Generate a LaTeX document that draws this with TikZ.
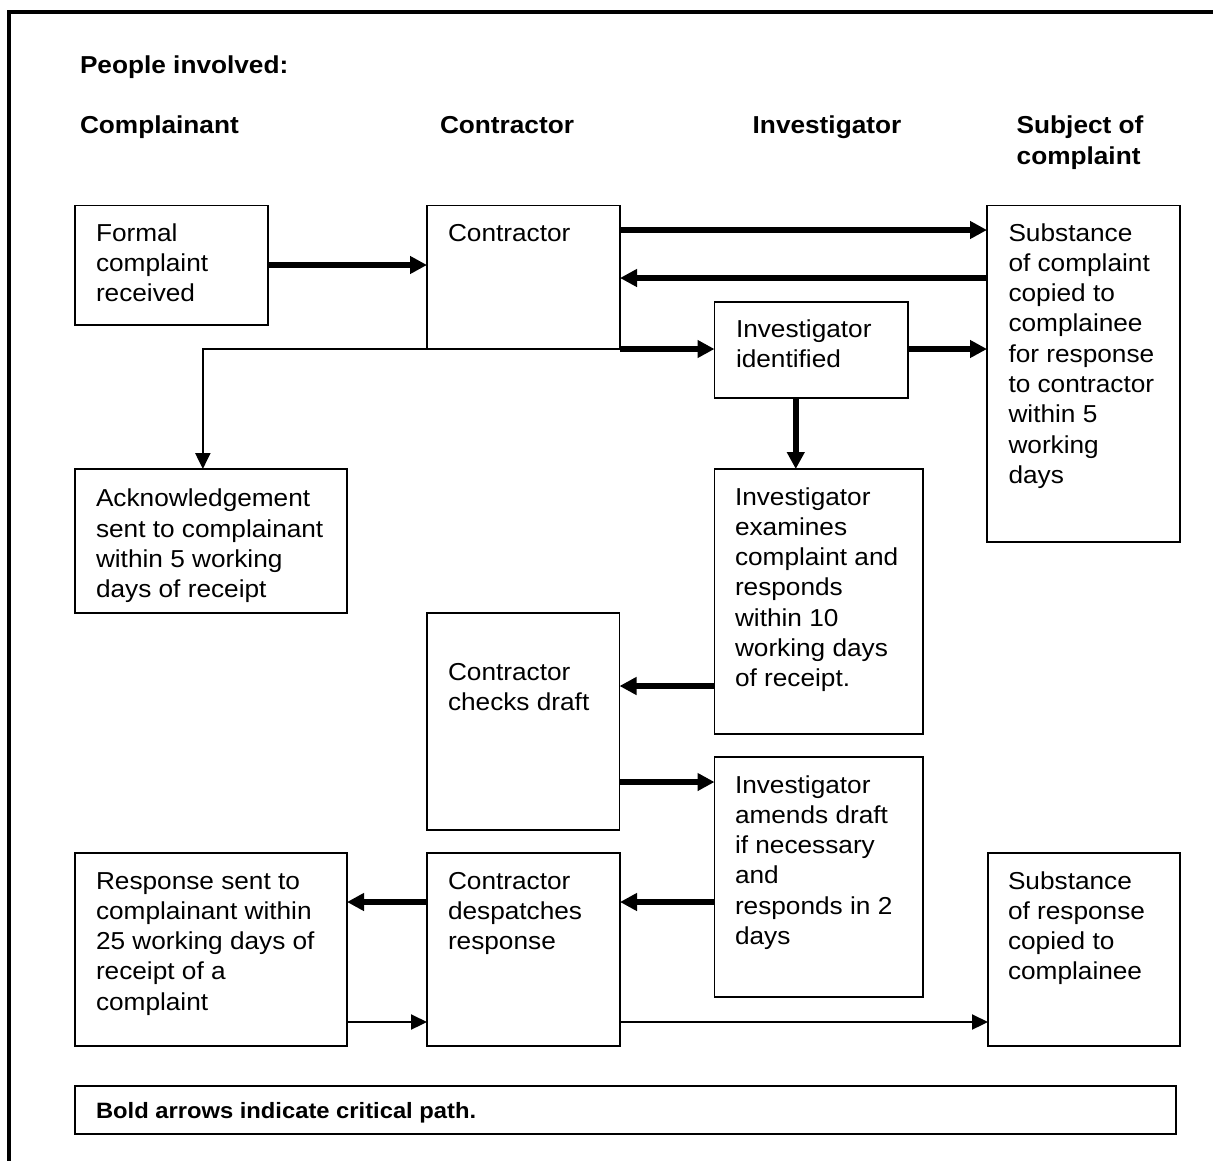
\documentclass[tikz,border=0pt]{standalone}
\usepackage{fontspec}
\setmainfont{Liberation Sans}[FakeStretch=1.07]
\usetikzlibrary{arrows.meta,calc}
\begin{document}
\begin{tikzpicture}[x=1pt,y=-1pt,
  box/.style={draw, line width=1.8pt, rectangle, inner sep=0pt, outer sep=0pt, anchor=north west},
  txt/.style={anchor=north west, inner sep=0pt, outer sep=0pt, align=left, font=\fontsize{24.5}{30.3}\selectfont},
  head/.style={anchor=north west, inner sep=0pt, outer sep=0pt, align=left, font=\fontsize{24.5}{31}\selectfont\bfseries},
  note/.style={anchor=north west, inner sep=0pt, outer sep=0pt, align=left, font=\fontsize{22.2}{26}\selectfont\bfseries},
  critarrow/.style={-{Triangle[length=17pt,width=17pt]}, line width=6pt},
  thinarrow/.style={-{Triangle[length=16pt,width=15pt]}, line width=2.2pt}]
\useasboundingbox (0,0) rectangle (1213,1160);
\clip (0,0) rectangle (1213,1160);
% outer frame
\draw[line width=3.5pt] (9,1260) -- (9,12) -- (1260,12);

% headings
\node[head] (h-people) at (80,53) {\rule{0pt}{20pt}People involved:};
\node[head] (h-compl) at (80,113) {\rule{0pt}{20pt}Complainant};
\node[head] (h-contr) at (440,113) {\rule{0pt}{20pt}Contractor};
\node[head] (h-inv) at (752.7,113) {\rule{0pt}{20pt}Investigator};
\node[head] (h-subj) at (1016.7,113) {\rule{0pt}{20pt}Subject of\\complaint};

% boxes
\node[box, minimum width=193pt, minimum height=119.5pt] (formal) at (75,205.5) {};
\node[box, minimum width=193pt, minimum height=143.5pt] (contr) at (427,205.5) {};
\node[box, minimum width=193pt, minimum height=336.5pt] (subj) at (987,205.5) {};
\node[box, minimum width=193.5pt, minimum height=96pt] (invid) at (714.5,302) {};
\node[box, minimum width=272pt, minimum height=144pt] (ack) at (75,469) {};
\node[box, minimum width=208.5pt, minimum height=265pt] (exam) at (714.5,469) {};
\node[box, minimum width=192.5pt, minimum height=217pt] (checks) at (427,613) {};
\node[box, minimum width=208.5pt, minimum height=240pt] (amends) at (714.5,757) {};
\node[box, minimum width=272pt, minimum height=193pt] (resp) at (75,853) {};
\node[box, minimum width=193pt, minimum height=193pt] (desp) at (427,853) {};
\node[box, minimum width=192pt, minimum height=193pt] (subresp) at (988,853) {};
\node[box, minimum width=1101pt, minimum height=48pt] (critbox) at (75,1086) {};

% texts
\node[txt] (formal-t) at (96,221) {\rule{0pt}{20pt}Formal\\complaint\\received};
\node[txt] (contr-t) at (448,221) {\rule{0pt}{20pt}Contractor};
\node[txt] (subj-t) at (1008.5,221) {\rule{0pt}{20pt}Substance\\of complaint\\copied to\\complainee\\for response\\to contractor\\within 5\\working\\days};
\node[txt] (invid-t) at (736,317) {\rule{0pt}{20pt}Investigator\\identified};
\node[txt] (ack-t) at (96,486.7) {\rule{0pt}{20pt}Acknowledgement\\sent to complainant\\within 5 working\\days of receipt};
\node[txt] (exam-t) at (735,485) {\rule{0pt}{20pt}Investigator\\examines\\complaint and\\responds\\within 10\\working days\\of receipt.};
\node[txt] (checks-t) at (448,660) {\rule{0pt}{20pt}Contractor\\checks draft};
\node[txt] (amends-t) at (735,773) {\rule{0pt}{20pt}Investigator\\amends draft\\if necessary\\and\\responds in 2\\days};
\node[txt] (resp-t) at (96,869) {\rule{0pt}{20pt}Response sent to\\complainant within\\25 working days of\\receipt of a\\complaint};
\node[txt] (desp-t) at (448,869) {\rule{0pt}{20pt}Contractor\\despatches\\response};
\node[txt] (subresp-t) at (1008,869) {\rule{0pt}{20pt}Substance\\of response\\copied to\\complainee};
\node[note] (crit-t) at (96,1100) {\rule{0pt}{18pt}Bold arrows indicate critical path.};

% helper rows
\coordinate (ya) at (0,230);
\coordinate (yb) at (0,278);
\coordinate (yd) at (0,686);
\coordinate (ye) at (0,782);
\coordinate (yf) at (0,902);
\coordinate (yg) at (0,1022);
\coordinate (yh) at (0,265);

% critical path arrows
\draw[critarrow] (formal.east |- yh) -- (contr.west |- yh);
\draw[critarrow] (contr.east |- ya) -- (subj.west |- ya);
\draw[critarrow] (subj.west |- yb) -- (contr.east |- yb);
\draw[critarrow] (contr.south east) -- (invid.west |- contr.south east);
\draw[critarrow] (invid.east |- contr.south east) -- (subj.west |- contr.south east);
\coordinate (p5) at ($(invid.south west)!0.42!(invid.south east)$);
\draw[critarrow] (p5) -- (p5 |- exam.north);
\draw[critarrow] (exam.west |- yd) -- (checks.east |- yd);
\draw[critarrow] (checks.east |- ye) -- (amends.west |- ye);
\draw[critarrow] (amends.west |- yf) -- (desp.east |- yf);
\draw[critarrow] (desp.west |- yf) -- (resp.east |- yf);

% thin arrows
\coordinate (pa) at ($(ack.north west)!0.47!(ack.north east)$);
\draw[thinarrow] (contr.south west) -| (pa);
\draw[thinarrow] (resp.east |- yg) -- (desp.west |- yg);
\draw[thinarrow] (desp.east |- yg) -- (subresp.west |- yg);
\end{tikzpicture}
\end{document}
